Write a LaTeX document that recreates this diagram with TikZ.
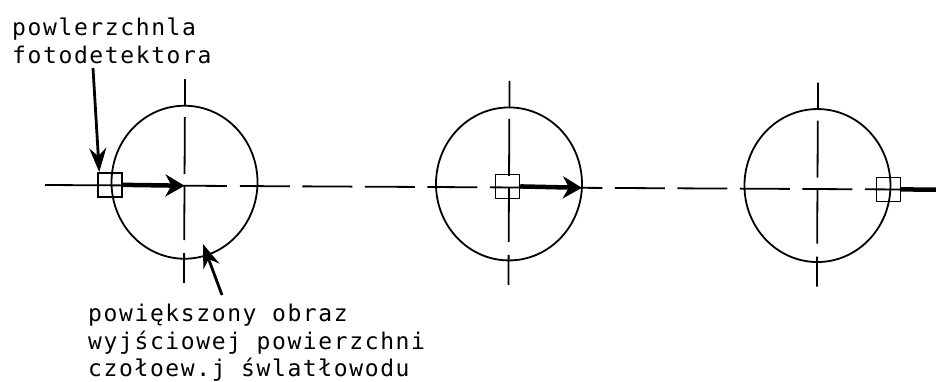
\documentclass[tikz,border=0pt]{standalone}
\usepackage{fontspec}
\newfontfamily\cadfont[LetterSpace=7]{DejaVu Sans Mono}
\usetikzlibrary{arrows.meta}
\tikzset{
  thinline/.style={line width=1.8pt, black},
  detbox/.style={draw, line width=1.5pt, minimum width=24pt, minimum height=24pt, inner sep=0pt, fill=none},
  mainarrow/.style={line width=4.5pt, -{Stealth[length=19pt,width=22pt,inset=6pt]}},
  labelarrow/.style={line width=2.8pt, -{Stealth[length=24pt,width=17pt,inset=8pt]}},
  lbl/.style={inner sep=0pt, anchor=base west, font=\cadfont\fontsize{23pt}{28pt}\selectfont}
}
\begin{document}
\begin{tikzpicture}[x=1pt,y=-1pt]
\useasboundingbox[fill=white] (0,0) rectangle (936,381);
\begin{scope}[rotate around={-0.3:(45,185)}]
  % optical axis
  \draw[thinline] (45,185) -- (227,185);
  \draw[thinline, dash pattern=on 50pt off 12.5pt] (240,185) -- (945,185);
  % circles with centre lines
  \foreach \cx/\n in {184.5/1,509/2,817.5/3}{
    \coordinate (c\n) at (\cx,181.5);
    \draw[thinline] (\cx,78.5) -- (\cx,104.5)
                    (\cx,116.5) -- (\cx,173.5)
                    (\cx,185.5) -- (\cx,239.5)
                    (\cx,252.5) -- (\cx,282.5);
    \draw[thinline] (c\n) ellipse [x radius=73, y radius=76.5];
  }
  % photodetector boxes
  \node[detbox] (b1) at (110,184.5) {};
  \node[detbox] (b2) at (507.5,184) {};
  \node[detbox] (b3) at (888.5,185) {};
  % displacement arrows
  \coordinate (e1) at (184.5,185);
  \coordinate (e2) at (582,185);
  \coordinate (e3) at (945,185);
  \draw[mainarrow] (b1.east) -- (e1);
  \draw[mainarrow] (b2.east) -- (e2);
  \draw[line width=4.5pt] (b3.east) -- (e3);
\end{scope}
% labels
\node[lbl] (t1a) at (12,35) {powlerzchnla};
\node[lbl] (t1b) at (12,63) {fotodetektora};
\node[lbl] (t2a) at (88,321) {powiększony obraz};
\node[lbl] (t2b) at (88,349) {wyjściowej powierzchni};
\node[lbl] (t2c) at (88,376) {czołoew.j śwlatłowodu};
% label arrows
\coordinate (a1) at (93,68);
\draw[labelarrow] (a1) -- ([xshift=2pt]b1.north west);
\coordinate (a2) at (222,295);
\coordinate (p2) at (203,244);
\draw[labelarrow] (a2) -- (p2);
\end{tikzpicture}
\end{document}
